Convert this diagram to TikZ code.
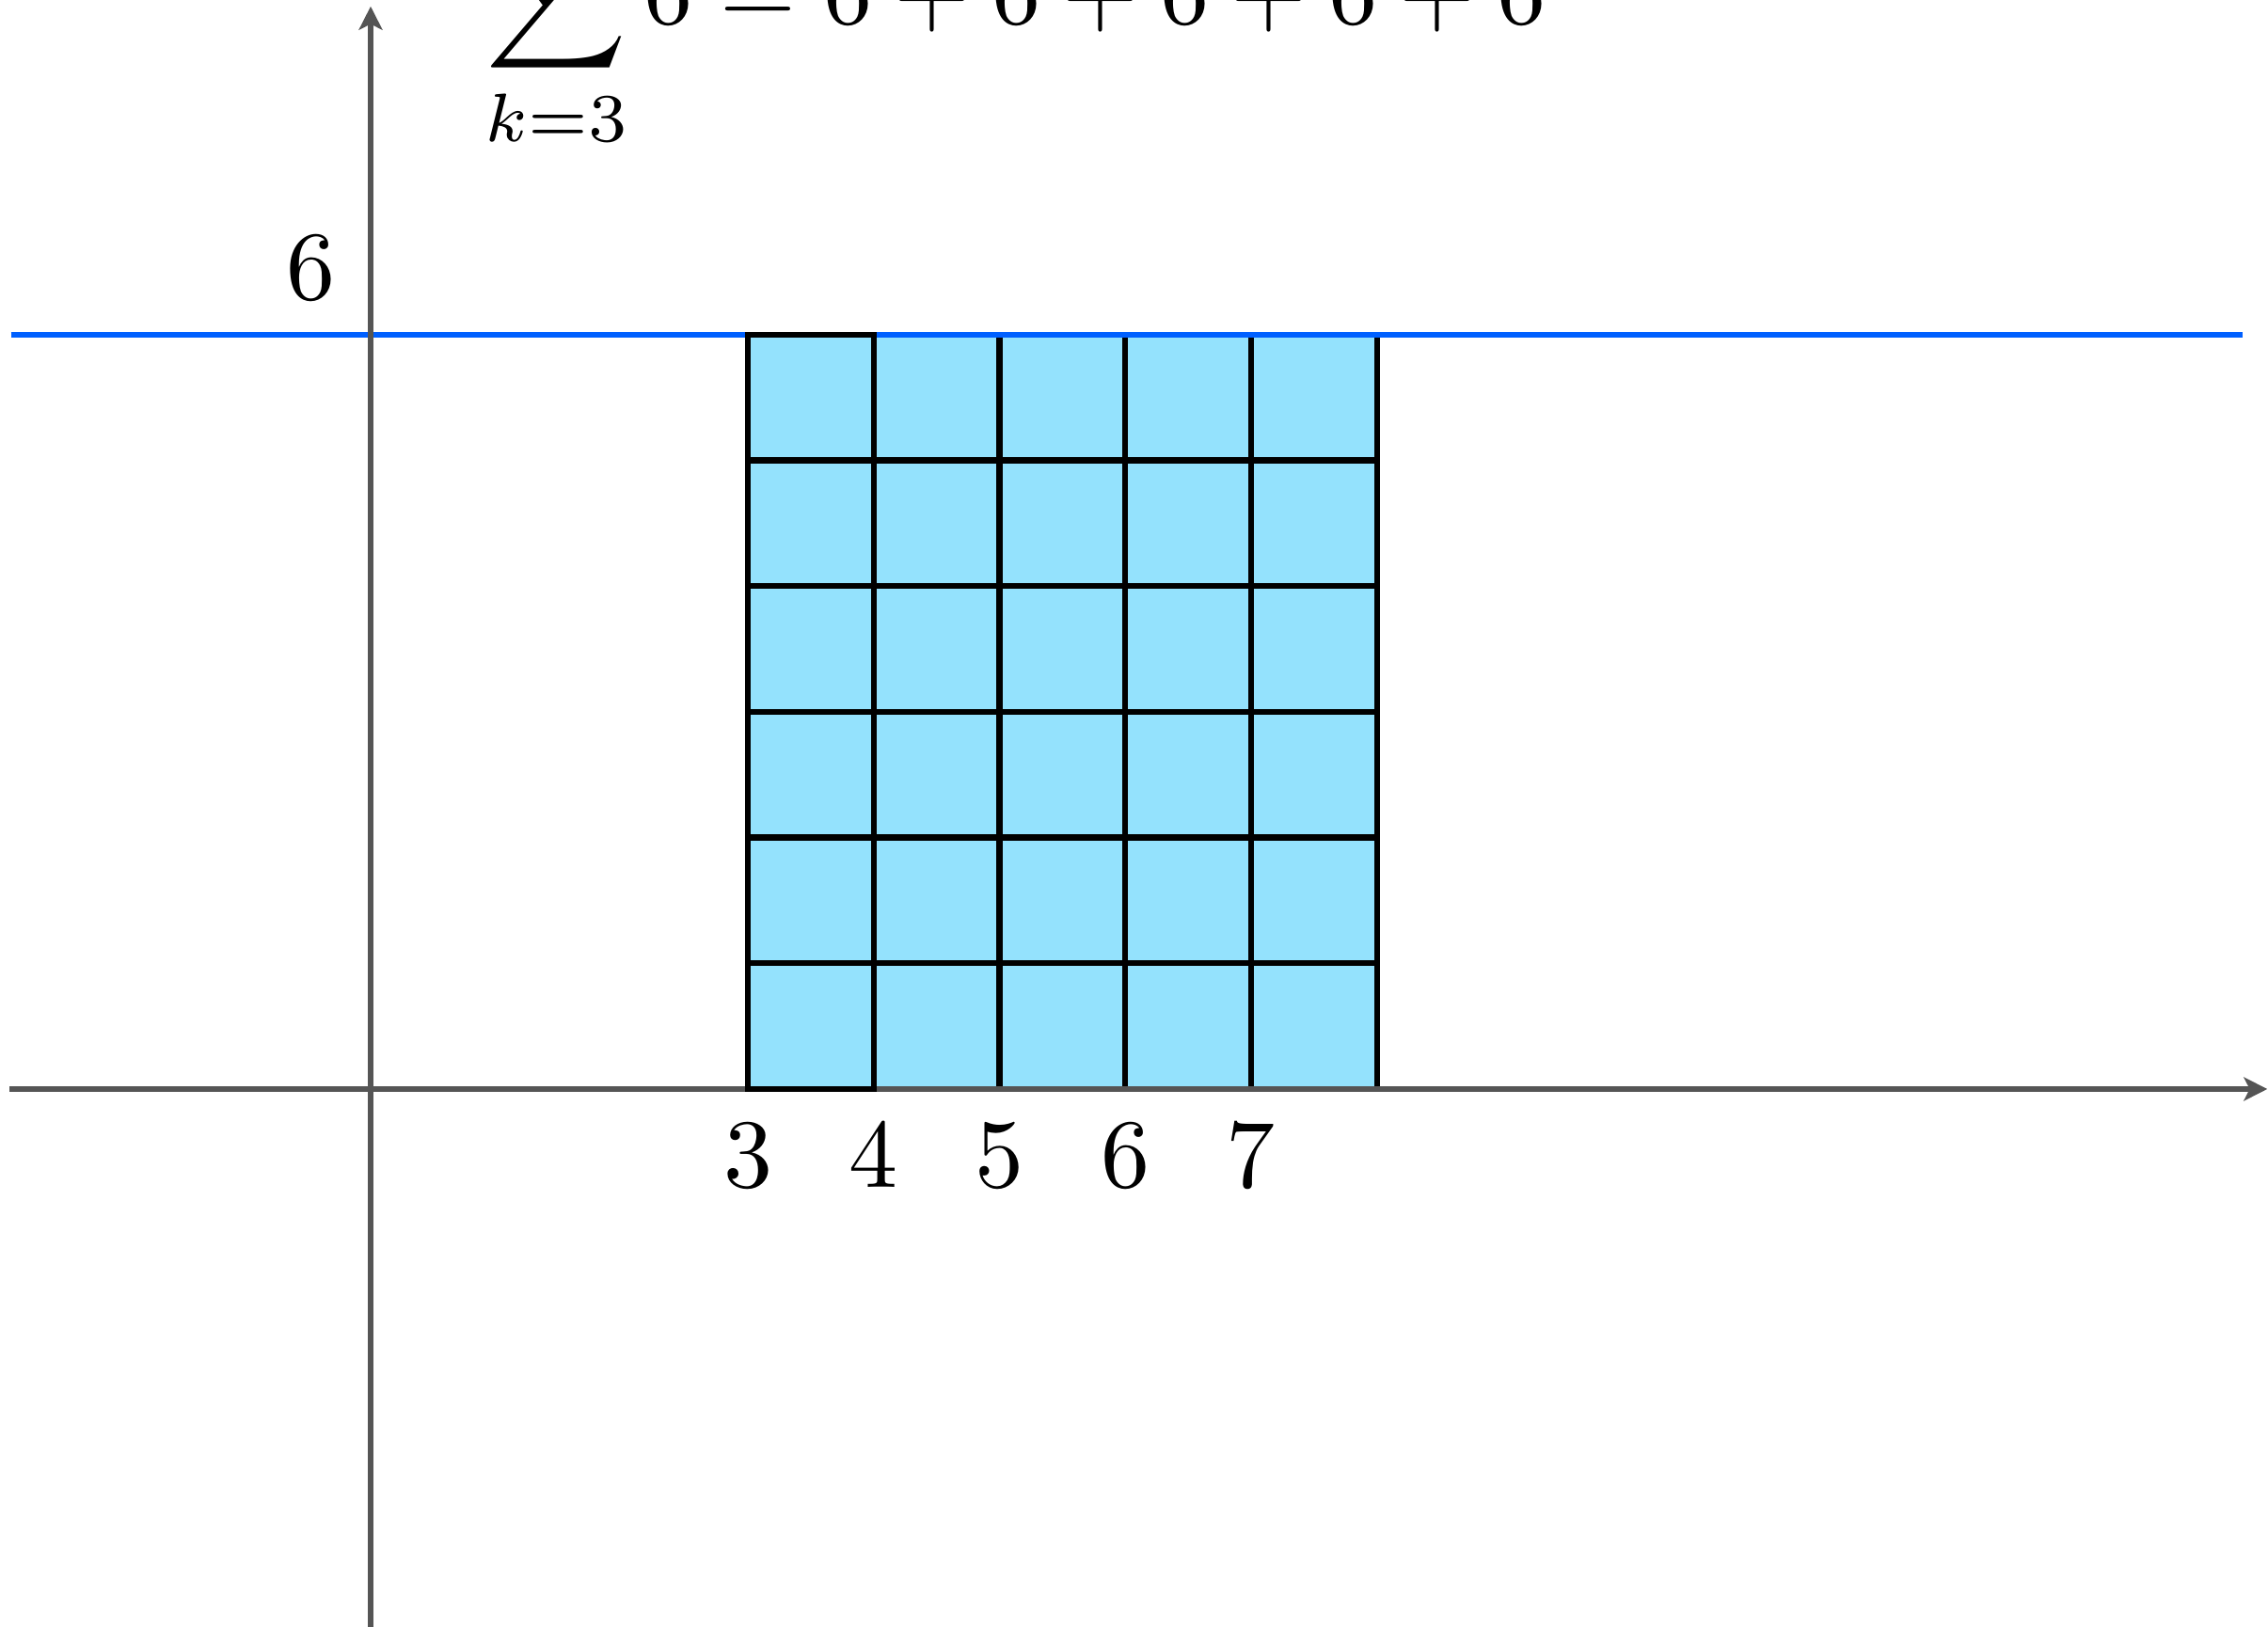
\documentclass[tikz,border=0pt]{standalone}
\usetikzlibrary{arrows.meta}
\definecolor{cellfill}{RGB}{148,226,253}
\definecolor{levelblue}{RGB}{0,96,255}
\definecolor{axisgray}{RGB}{85,85,85}
\begin{document}
\begin{tikzpicture}[x=0.4517cm, y=0.4517cm, line width=0.55pt,
  axis/.style={axisgray, -{Stealth[length=2.4pt, width=2.4pt, inset=0.6pt]}}]
\useasboundingbox (-2.947,-4.271) rectangle (15.085,8.661);
\clip (-2.947,-4.271) rectangle (15.085,8.661);
% five columns of height 6, one unit square per cell
\fill[cellfill] (3,0) rectangle (8,6);
\foreach \c in {3,...,8} {
  \draw[black, line width=0.6pt] (\c,0) -- (\c,6);
}
\foreach \r in {0,...,6} {
  \draw[black, line width=0.6pt] (3,\r) -- (8,\r);
}
% the constant level y = 6
\draw[levelblue] (-2.86,6) -- (14.88,6);
% axes
\draw[axis] (-2.87,0) -- (15.08,0);
\draw[axis] (0,-4.6) -- (0,8.61);
% first column outlined on top
\draw[black, line width=0.6pt] (3,0) rectangle (4,6);
% labels
\node[above left] (ysix) at (0,6) {$6$};
\foreach \k in {3,...,7} {
  \node[below] (xlab\k) at (\k,0) {$\k$};
}
\node[anchor=base west, inner sep=0] (sumtext) at (0.89,8.47)
  {$\displaystyle\sum_{k=3}^{7} 6 = 6+6+6+6+6$};
\end{tikzpicture}
\end{document}
